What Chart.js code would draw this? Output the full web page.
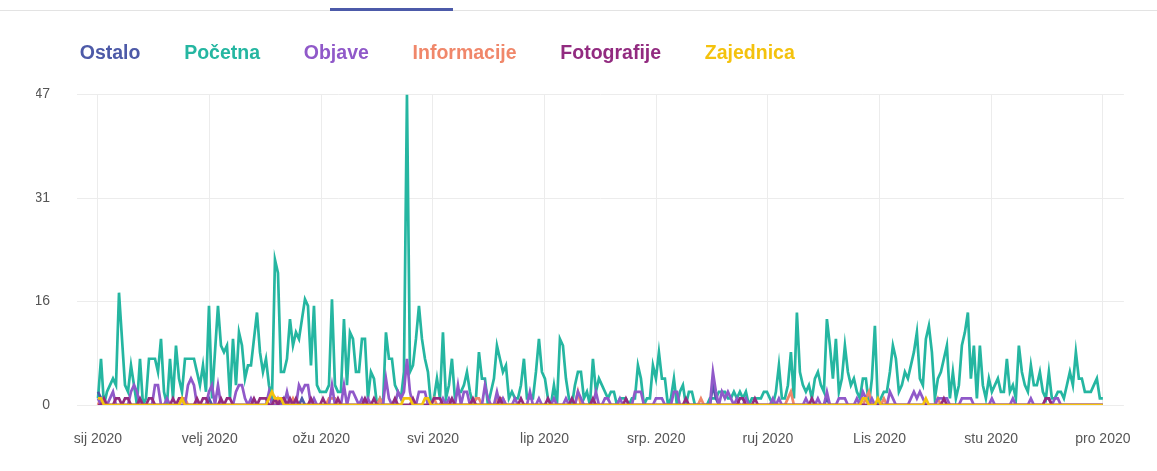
<!DOCTYPE html>
<html>
<head>
<meta charset="utf-8">
<script src="https://cdn.jsdelivr.net/npm/chart.js@4/dist/chart.umd.min.js"></script>
<style>
  html, body { margin: 0; padding: 0; background: #fff; }
  #wrap { position: relative; width: 1157px; height: 471px; }
  #topline { position: absolute; left: 0; top: 10px; width: 1157px; height: 1px; background: #e3e3e3; }
  #tab { position: absolute; left: 330px; top: 8px; width: 123px; height: 3px; background: #4c5aa9; }
  canvas { position: absolute; left: 0; top: 0; }
</style>
</head>
<body>
<div id="wrap">
  <canvas id="grafica" width="1157" height="471"></canvas>
  <div id="topline"></div>
  <div id="tab"></div>
</div>
<script>
// etiquetas del eje x (meses)
const mjeseci = ['sij 2020','velj 2020','ožu 2020','svi 2020','lip 2020','srp. 2020','ruj 2020','Lis 2020','stu 2020','pro 2020'];
const serije = ['Ostalo','Početna','Objave','Informacije','Fotografije','Zajednica'];
const boje = ['#4d5aa8','#25b6a1','#9059c9','#f0876a','#922b80','#f4c20d'];

// dnevne vrijednosti
const pocetna = [
  1,7,0,2,3,4,3,17,10,3, 2,6,3,0,7,0,1,7,7,7,
  5,10,2,0,7,1,9,4,2,7, 7,7,7,5,3,6,2,15,1,8,
  15,9,8,9,1,10,3,11,9,4, 6,6,10,14,8,5,7,3,1,22,
  20,5,5,7,13,9,11,10,13,16, 15,6,15,3,2,2,2,3,16,3,
  2,2,13,3,11,10,5,5,10,10, 1,5,4,0,1,0,11,7,7,3,
  2,1,5,47,5,6,10,15,10,7, 5,0,1,4,1,11,1,3,7,1,
  2,2,3,5,2,0,1,8,4,4, 0,2,4,9,7,5,6,1,2,1,
  1,3,7,1,1,1,5,10,5,4, 1,0,3,0,10,9,4,1,0,3,
  5,5,1,2,0,7,2,4,3,2, 1,2,2,0,1,1,1,0,1,1,
  6,4,0,1,1,6,4,8,4,4, 0,1,4,0,2,3,0,2,2,0,
  0,0,0,0,1,1,1,2,2,2, 1,1,2,1,2,1,2,0,1,1,
  1,1,2,2,1,0,2,6,1,1, 3,8,1,14,5,3,2,3,1,4,
  5,3,2,13,9,4,10,2,4,9, 5,3,4,2,1,4,4,0,4,12,
  0,1,2,2,5,9,7,2,3,5, 4,6,8,11,4,3,10,12,8,1,
  4,5,7,9,1,5,1,3,9,11, 14,4,9,1,9,3,1,4,2,3,
  4,2,2,7,2,3,1,9,5,3, 2,6,3,3,5,2,1,5,1,1,
  2,2,1,3,5,3,8,4,4,2, 2,2,3,4,1,1
];
const objave = [
  1,0,0,0,1,2,0,0,0,0,0,2,3,2,0,0,0,0,0,3,
  3,0,0,1,0,0,0,0,0,0,3,4,3,0,0,0,0,2,3,0,
  3,0,0,0,0,0,2,3,3,1,0,1,0,0,0,0,0,2,0,0,
  0,0,0,2,0,0,0,3,2,3,3,0,1,0,0,0,0,0,3,0,
  0,0,3,0,2,2,1,0,1,0,1,0,0,0,0,0,4,1,0,0,
  2,1,2,7,2,0,0,2,2,2,0,0,0,0,0,1,0,1,0,0,
  3,0,2,2,0,0,0,0,0,3,1,0,0,2,0,1,0,0,0,1,
  0,0,0,0,2,0,0,1,0,0,0,0,1,0,0,0,1,0,0,0,
  2,1,0,0,0,0,2,0,0,1,1,0,0,0,1,0,0,0,0,2,
  2,2,0,0,0,0,1,1,1,0,0,0,2,2,0,0,0,0,0,0,
  0,0,0,0,0,5,2,0,2,1,2,1,0,1,0,0,1,0,0,0,
  0,0,0,0,0,1,0,1,0,0,0,0,0,0,0,0,1,0,0,0,
  1,0,0,2,0,0,0,1,1,1,0,0,0,1,0,2,1,0,1,0,
  0,0,0,0,2,1,0,0,0,0,0,1,2,1,2,1,0,0,0,0,
  1,1,1,1,0,0,0,0,1,1,1,1,0,0,0,0,0,0,1,0,
  0,0,0,0,0,1,0,0,0,0,0,1,0,0,0,0,1,1,0,1,
  1,0,0,0,0,0,0,0,0,0,0,0,0,0,0,0
];
const fotografije = [
  0,0,1,0,0,0,1,1,0,1,1,0,0,0,1,0,0,1,1,0,
  0,0,0,0,0,1,0,1,1,0,0,0,0,1,0,1,1,0,0,0,
  0,1,0,1,1,0,0,0,0,0,0,0,1,0,1,1,1,0,0,1,
  0,1,1,0,1,0,1,0,0,0,0,1,0,0,0,1,0,0,0,0,
  1,0,0,0,0,0,0,0,0,1,0,0,1,0,0,0,0,0,0,1,
  0,0,0,0,0,1,0,0,0,0,0,0,1,1,1,0,0,0,1,0,
  0,0,0,0,0,1,0,0,0,0,0,0,0,0,1,0,0,0,0,0,
  0,1,0,0,0,0,0,0,0,0,1,0,0,0,0,0,0,0,1,0,
  0,0,0,0,0,1,0,0,0,0,0,0,0,0,0,0,1,0,0,0,
  0,0,0,0,0,0,0,0,0,0,0,0,0,0,0,0,1,0,0,0,
  0,0,0,0,0,0,0,0,0,0,0,0,0,0,1,1,0,0,0,1,
  0,0,0,0,0,0,0,0,0,0,0,0,0,0,0,0,0,0,1,0,
  0,0,0,0,0,0,0,0,0,0,0,0,0,0,0,0,0,0,0,0,
  0,0,0,0,0,0,0,0,0,0,0,0,0,0,0,0,0,0,0,0,
  0,0,1,0,0,0,0,0,0,0,0,0,0,0,0,0,0,0,0,0,
  0,0,0,0,0,0,0,0,0,0,0,0,0,0,0,0,1,1,0,0,
  0,0,0,0,0,0,0,0,0,0,0,0,0,0,0,0
];
const informacije = [
  0,1,0,0,0,0,0,0,0,0,0,0,0,0,0,0,0,0,0,0,
  0,0,0,0,0,0,0,0,1,1,0,0,0,0,0,0,0,0,0,0,
  0,0,0,0,0,0,0,0,0,0,0,0,0,0,0,0,0,0,0,0,
  1,0,0,0,0,1,0,0,0,0,0,0,0,0,0,0,0,1,1,1,
  0,0,0,0,0,0,0,0,0,0,0,0,0,0,1,0,0,0,0,0,
  0,0,0,0,0,0,0,0,0,0,0,0,1,0,0,0,0,0,0,0,
  0,0,0,0,0,0,1,1,0,0,0,0,0,1,1,1,0,0,0,0,
  0,0,0,0,0,0,0,0,0,0,0,0,0,0,0,0,0,0,0,0,
  2,0,0,0,0,0,0,0,0,0,0,0,0,0,0,0,0,0,0,0,
  0,0,0,0,0,0,0,0,0,0,0,0,0,0,0,0,0,0,0,0,
  0,1,0,0,0,0,0,0,0,0,0,0,0,0,0,0,0,0,0,0,
  0,0,0,0,0,0,0,0,0,0,1,2,0,0,0,0,0,0,0,0,
  0,0,0,0,0,0,0,0,0,0,0,0,0,0,0,0,1,2,0,0,
  0,0,1,0,0,0,0,0,0,0,0,0,0,0,0,0,0,0,0,0,
  1,0,0,0,0,0,0,0,0,0,0,0,0,0,0,0,0,0,0,0,
  0,0,0,0,0,0,0,0,0,0,0,0,0,0,0,0,0,0,0,0,
  0,0,0,0,0,0,0,0,0,0,0,0,0,0,0,0
];
const zajednica = [
  1,1,0,0,0,0,0,0,0,0,0,0,0,0,0,0,0,0,0,0,
  0,0,0,0,0,0,0,0,1,0,0,0,0,0,0,0,0,0,0,0,
  0,0,0,0,0,0,0,0,0,0,0,0,0,0,0,0,0,1,2,1,
  1,1,0,0,0,0,0,0,0,0,0,0,0,0,0,0,0,0,0,0,
  0,0,0,0,0,0,0,0,0,0,0,0,0,0,0,0,0,0,0,0,
  0,0,1,1,1,0,0,0,0,1,1,0,0,0,0,0,0,0,0,0,
  0,0,0,0,0,0,0,0,0,0,0,0,0,0,0,0,0,0,0,0,
  0,0,0,0,0,0,0,0,0,0,0,0,0,0,0,0,0,0,0,0,
  0,0,0,0,0,0,0,0,0,0,0,0,0,0,0,0,0,0,0,0,
  0,0,0,0,0,0,0,0,0,0,0,0,0,0,0,0,0,0,0,0,
  0,0,0,0,0,0,0,0,0,0,0,0,0,0,0,0,0,0,0,0,
  0,0,0,0,0,0,0,0,0,0,0,0,0,0,0,0,0,0,0,0,
  0,0,0,0,0,0,0,0,0,0,0,0,0,0,0,1,1,0,0,0,
  1,0,0,0,0,0,0,0,0,0,0,0,0,0,0,0,1,0,0,0,
  0,0,0,0,0,0,0,0,0,0,0,0,0,0,0,0,0,0,0,0,
  0,0,0,0,0,0,0,0,0,0,0,0,0,0,0,0,0,0,0,0,
  0,0,0,0,0,0,0,0,0,0,0,0,0,0,0,0
];
const ostalo = [
  2,1,0,0,0,0,0,0,0,0,0,0,0,0,0,0,0,0,0,0,
  0,0,0,0,0,0,0,0,0,0,0,0,0,0,0,0,0,1,0,0,
  0,0,0,0,0,0,0,0,0,0,0,0,0,0,0,0,0,0,0,0,
  0,0,1,0,0,0,0,0,1,0,0,0,0,0,0,0,0,0,0,0,
  0,0,0,0,0,0,0,0,0,0,0,0,0,0,0,0,0,0,0,0,
  0,0,0,0,0,0,0,0,0,0,0,0,0,0,0,0,0,0,0,0,
  0,0,0,0,0,0,0,0,0,0,0,0,0,0,0,0,0,0,0,0,
  0,0,0,0,0,0,0,0,0,0,0,0,0,0,0,0,0,0,0,0,
  0,0,0,0,0,0,0,0,0,0,0,0,0,0,0,0,0,0,0,0,
  0,0,0,0,0,0,0,0,0,0,0,0,0,0,0,0,0,0,0,0,
  0,0,0,0,0,3,1,0,0,0,0,0,0,0,0,0,0,0,0,0,
  0,0,0,0,0,0,0,0,0,0,0,0,0,0,0,0,0,0,0,0,
  0,0,0,1,0,0,0,0,0,0,0,0,0,0,0,0,0,0,0,0,
  0,0,0,0,0,0,0,0,0,0,0,0,0,0,0,0,0,0,0,0,
  0,0,0,0,0,0,0,0,0,0,0,0,0,0,0,0,0,0,0,0,
  0,0,0,0,0,0,0,0,0,0,0,0,0,0,0,0,0,0,0,0,
  0,0,0,0,0,0,0,0,0,0,0,0,0,0,0,0
];
const yMax = 47;

const vrijednosti = [ostalo, pocetna, objave, informacije, fotografije, zajednica];
// redoslijed crtanja: zuta na vrhu, tirkizna na dnu
const redoslijed = [3, 6, 2, 4, 1, 0];
const zadnji = pocetna.length - 1;

Chart.defaults.font.family = "'Liberation Sans', Arial, sans-serif";

// razmak ispod legende
const razmakLegende = {
  id: 'razmakLegende',
  beforeInit(chart) {
    const fit = chart.legend.fit;
    chart.legend.fit = function () {
      fit.bind(chart.legend)();
      this.height += 21;
    };
  }
};

const ctx = document.getElementById('grafica');
const grafikon = new Chart(ctx, {
  type: 'line',
  data: {
    datasets: serije.map((ime, i) => ({
      label: ime,
      data: vrijednosti[i].map((v, d) => ({ x: d, y: v })),
      borderColor: boje[i],
      backgroundColor: boje[i],
      borderWidth: 2.7,
      pointRadius: 0,
      tension: 0,
      fill: false,
      order: redoslijed[i],
    }))
  },
  options: {
    responsive: false,
    animation: false,
    layout: { padding: { left: 36, right: 25, top: 34, bottom: 16 } },
    plugins: {
      legend: {
        display: true,
        align: 'start',
        labels: {
          boxWidth: 24,
          padding: 10,
          font: { size: 19.5, weight: 'bold' },
          generateLabels: (chart) => chart.data.datasets.map((ds, i) => ({
            text: ds.label,
            fontColor: ds.borderColor,
            fillStyle: 'rgba(0,0,0,0)',
            strokeStyle: 'rgba(0,0,0,0)',
            lineWidth: 0,
            hidden: false,
            datasetIndex: i,
          })),
        },
      },
      tooltip: { enabled: false },
    },
    scales: {
      x: {
        type: 'linear',
        min: -7,
        max: zadnji + 7,
        afterBuildTicks: (axis) => {
          axis.ticks = mjeseci.map((m, i) => ({ value: i * zadnji / (mjeseci.length - 1) }));
        },
        afterFit: (axis) => { axis.height = 50; },
        ticks: {
          autoSkip: false,
          maxRotation: 0,
          padding: 26,
          color: '#555',
          font: { size: 14 },
          callback: (value, index) => mjeseci[index],
        },
        grid: { color: '#ececec', drawTicks: false },
        border: { display: false },
      },
      y: {
        min: 0,
        max: yMax,
        afterBuildTicks: (axis) => {
          axis.ticks = [0, 1, 2, 3].map(k => ({ value: k * yMax / 3 }));
        },
        afterFit: (axis) => { axis.width = 41; },
        ticks: {
          padding: 27,
          color: '#555',
          font: { size: 14 },
          callback: (value) => Math.round(value),
        },
        grid: { color: '#ececec', drawTicks: false },
        border: { display: false },
      },
    },
  },
  plugins: [razmakLegende],
});
</script>
</body>
</html>
